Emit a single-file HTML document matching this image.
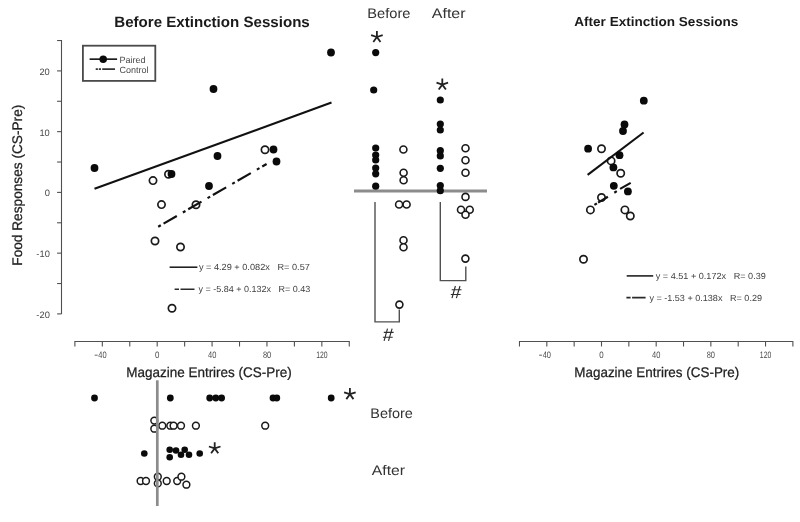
<!DOCTYPE html>
<html><head><meta charset="utf-8"><title>Extinction Sessions</title>
<style>
html,body{margin:0;padding:0;background:#fff;}
body{width:800px;height:522px;overflow:hidden;font-family:"Liberation Sans",sans-serif;}
svg{display:block;will-change:transform;opacity:0.999;}
text{text-rendering:geometricPrecision;white-space:pre;}
</style></head><body>
<svg width="800" height="522" viewBox="0 0 800 522">
<path d="M61.5 40 V314" stroke="#505050" stroke-width="1.1" fill="none"/>
<path d="M57.1 313.90 H61.5" stroke="#505050" stroke-width="1.1"/>
<path d="M57.1 283.52 H61.5" stroke="#505050" stroke-width="1.1"/>
<path d="M57.1 253.15 H61.5" stroke="#505050" stroke-width="1.1"/>
<path d="M57.1 222.78 H61.5" stroke="#505050" stroke-width="1.1"/>
<path d="M57.1 192.40 H61.5" stroke="#505050" stroke-width="1.1"/>
<path d="M57.1 162.03 H61.5" stroke="#505050" stroke-width="1.1"/>
<path d="M57.1 131.65 H61.5" stroke="#505050" stroke-width="1.1"/>
<path d="M57.1 101.28 H61.5" stroke="#505050" stroke-width="1.1"/>
<path d="M57.1 70.90 H61.5" stroke="#505050" stroke-width="1.1"/>
<path d="M57.1 40.53 H61.5" stroke="#505050" stroke-width="1.1"/>
<text x="49.8" y="317.9" font-family="Liberation Sans, sans-serif" font-size="9.3" font-weight="normal" text-anchor="end" fill="#4a4a4a" >-20</text>
<text x="49.8" y="257.15" font-family="Liberation Sans, sans-serif" font-size="9.3" font-weight="normal" text-anchor="end" fill="#4a4a4a" >-10</text>
<text x="49.8" y="196.4" font-family="Liberation Sans, sans-serif" font-size="9.3" font-weight="normal" text-anchor="end" fill="#4a4a4a" >0</text>
<text x="49.8" y="135.65" font-family="Liberation Sans, sans-serif" font-size="9.3" font-weight="normal" text-anchor="end" fill="#4a4a4a" >10</text>
<text x="49.8" y="74.9" font-family="Liberation Sans, sans-serif" font-size="9.3" font-weight="normal" text-anchor="end" fill="#4a4a4a" >20</text>
<text transform="translate(21.6,185.2) rotate(-90)" font-family="Liberation Sans, sans-serif" font-size="13.9" text-anchor="middle" fill="#222" stroke="#222" stroke-width="0.25" textLength="161" lengthAdjust="spacingAndGlyphs">Food Responses (CS-Pre)</text>
<path d="M74.87999999999998 341.5 H349.28" stroke="#505050" stroke-width="1.1" fill="none"/>
<path d="M74.88 341 V346.5" stroke="#505050" stroke-width="1.1"/>
<path d="M102.32 341 V346.5" stroke="#505050" stroke-width="1.1"/>
<path d="M129.76 341 V346.5" stroke="#505050" stroke-width="1.1"/>
<path d="M157.20 341 V346.5" stroke="#505050" stroke-width="1.1"/>
<path d="M184.64 341 V346.5" stroke="#505050" stroke-width="1.1"/>
<path d="M212.08 341 V346.5" stroke="#505050" stroke-width="1.1"/>
<path d="M239.52 341 V346.5" stroke="#505050" stroke-width="1.1"/>
<path d="M266.96 341 V346.5" stroke="#505050" stroke-width="1.1"/>
<path d="M294.40 341 V346.5" stroke="#505050" stroke-width="1.1"/>
<path d="M321.84 341 V346.5" stroke="#505050" stroke-width="1.1"/>
<path d="M349.28 341 V346.5" stroke="#505050" stroke-width="1.1"/>
<text x="102.41999999999999" y="357.8" font-family="Liberation Sans, sans-serif" font-size="9.3" font-weight="normal" text-anchor="middle" fill="#4a4a4a" textLength="8.3" lengthAdjust="spacingAndGlyphs" >40</text>
<path d="M94.67 355.2 H97.67" stroke="#555" stroke-width="0.9"/>
<text x="157.29999999999998" y="357.8" font-family="Liberation Sans, sans-serif" font-size="9.3" font-weight="normal" text-anchor="middle" fill="#4a4a4a" textLength="4.4" lengthAdjust="spacingAndGlyphs" >0</text>
<text x="212.17999999999998" y="357.8" font-family="Liberation Sans, sans-serif" font-size="9.3" font-weight="normal" text-anchor="middle" fill="#4a4a4a" textLength="8.3" lengthAdjust="spacingAndGlyphs" >40</text>
<text x="267.06" y="357.8" font-family="Liberation Sans, sans-serif" font-size="9.3" font-weight="normal" text-anchor="middle" fill="#4a4a4a" textLength="8.3" lengthAdjust="spacingAndGlyphs" >80</text>
<text x="321.94000000000005" y="357.8" font-family="Liberation Sans, sans-serif" font-size="9.3" font-weight="normal" text-anchor="middle" fill="#4a4a4a" textLength="11.4" lengthAdjust="spacingAndGlyphs" >120</text>
<text x="209" y="376.7" font-family="Liberation Sans, sans-serif" font-size="13.9" font-weight="normal" text-anchor="middle" fill="#222" textLength="165.6" lengthAdjust="spacingAndGlyphs" stroke="#222" stroke-width="0.25">Magazine Entrires (CS-Pre)</text>
<text x="212" y="27" font-family="Liberation Sans, sans-serif" font-size="15" font-weight="bold" text-anchor="middle" fill="#1a1a1a" textLength="195.5" lengthAdjust="spacingAndGlyphs" >Before Extinction Sessions</text>
<text x="656.3" y="26.2" font-family="Liberation Sans, sans-serif" font-size="13" font-weight="bold" text-anchor="middle" fill="#1a1a1a" textLength="164" lengthAdjust="spacingAndGlyphs" >After Extinction Sessions</text>
<rect x="82.9" y="45.7" width="72.4" height="35.2" fill="none" stroke="#4a4a4a" stroke-width="1.8"/>
<path d="M89.6 59.15 H117.1" stroke="#111" stroke-width="1.6"/>
<circle cx="103.2" cy="59.15" r="3.75" fill="#0a0a0a"/>
<path d="M95.7 69.1 H115" stroke="#333" stroke-width="1.7" stroke-dasharray="2.2 0.9 2.2 1.2 12.8"/>
<text x="119.5" y="63" font-family="Liberation Sans, sans-serif" font-size="9" font-weight="normal" text-anchor="start" fill="#4a4a4a" >Paired</text>
<text x="119.5" y="72.8" font-family="Liberation Sans, sans-serif" font-size="9" font-weight="normal" text-anchor="start" fill="#4a4a4a" >Control</text>
<circle cx="153" cy="180.6" r="3.65" fill="#fff" stroke="#1a1a1a" stroke-width="1.7"/>
<circle cx="168.5" cy="174.3" r="3.65" fill="#fff" stroke="#1a1a1a" stroke-width="1.7"/>
<circle cx="161.5" cy="204.6" r="3.65" fill="#fff" stroke="#1a1a1a" stroke-width="1.7"/>
<circle cx="196" cy="204.8" r="3.65" fill="#fff" stroke="#1a1a1a" stroke-width="1.7"/>
<circle cx="265" cy="149.8" r="3.65" fill="#fff" stroke="#1a1a1a" stroke-width="1.7"/>
<circle cx="155" cy="241" r="3.65" fill="#fff" stroke="#1a1a1a" stroke-width="1.7"/>
<circle cx="180.5" cy="247" r="3.65" fill="#fff" stroke="#1a1a1a" stroke-width="1.7"/>
<circle cx="172" cy="308.3" r="3.65" fill="#fff" stroke="#1a1a1a" stroke-width="1.7"/>
<path d="M94.5 188.8 L331.5 102.6" stroke="#111" stroke-width="2.1"/>
<path d="M158.2 226.7 L266.6 164" stroke="#111" stroke-width="2.2" stroke-dasharray="3 3.2 15.3 7"/>
<circle cx="94.5" cy="168" r="3.9" fill="#0a0a0a"/>
<circle cx="331" cy="52.5" r="3.9" fill="#0a0a0a"/>
<circle cx="213.5" cy="89" r="3.9" fill="#0a0a0a"/>
<circle cx="217.5" cy="156" r="3.9" fill="#0a0a0a"/>
<circle cx="273.5" cy="149.5" r="3.9" fill="#0a0a0a"/>
<circle cx="276.5" cy="161.5" r="3.9" fill="#0a0a0a"/>
<circle cx="209" cy="186" r="3.9" fill="#0a0a0a"/>
<circle cx="171.5" cy="174" r="3.9" fill="#0a0a0a"/>
<path d="M169.6 267.2 H197.4" stroke="#222" stroke-width="1.6"/>
<text x="198.9" y="270.1" font-family="Liberation Sans, sans-serif" font-size="8.8" font-weight="normal" text-anchor="start" fill="#404040" textLength="111" lengthAdjust="spacingAndGlyphs" >y = 4.29 + 0.082x   R= 0.57</text>
<path d="M174.6 289.3 H194.5" stroke="#2a2a2a" stroke-width="1.6" stroke-dasharray="4.4 1.5 14"/>
<text x="198.4" y="292" font-family="Liberation Sans, sans-serif" font-size="8.8" font-weight="normal" text-anchor="start" fill="#404040" textLength="112" lengthAdjust="spacingAndGlyphs" >y = -5.84 + 0.132x   R= 0.43</text>
<text x="388.9" y="18" font-family="Liberation Sans, sans-serif" font-size="14" font-weight="normal" text-anchor="middle" fill="#333" textLength="43.2" lengthAdjust="spacingAndGlyphs" >Before</text>
<text x="448.7" y="18" font-family="Liberation Sans, sans-serif" font-size="14" font-weight="normal" text-anchor="middle" fill="#333" textLength="33.7" lengthAdjust="spacingAndGlyphs" >After</text>
<path d="M354 191 H487" stroke="#8c8c8c" stroke-width="3"/>
<circle cx="375.7" cy="52.6" r="3.6" fill="#0a0a0a"/>
<circle cx="373.7" cy="90" r="3.6" fill="#0a0a0a"/>
<circle cx="375.7" cy="148" r="3.6" fill="#0a0a0a"/>
<circle cx="375.7" cy="155" r="3.6" fill="#0a0a0a"/>
<circle cx="375.7" cy="160" r="3.6" fill="#0a0a0a"/>
<circle cx="375.7" cy="168" r="3.6" fill="#0a0a0a"/>
<circle cx="375.7" cy="173.8" r="3.6" fill="#0a0a0a"/>
<circle cx="375.7" cy="186.2" r="3.6" fill="#0a0a0a"/>
<circle cx="403.4" cy="149.5" r="3.5" fill="#fff" stroke="#1a1a1a" stroke-width="1.6"/>
<circle cx="403.6" cy="172.8" r="3.5" fill="#fff" stroke="#1a1a1a" stroke-width="1.6"/>
<circle cx="403.6" cy="180.3" r="3.5" fill="#fff" stroke="#1a1a1a" stroke-width="1.6"/>
<circle cx="399.1" cy="204.5" r="3.5" fill="#fff" stroke="#1a1a1a" stroke-width="1.6"/>
<circle cx="406.6" cy="204.5" r="3.5" fill="#fff" stroke="#1a1a1a" stroke-width="1.6"/>
<circle cx="403.5" cy="240.3" r="3.5" fill="#fff" stroke="#1a1a1a" stroke-width="1.6"/>
<circle cx="403.5" cy="247.3" r="3.5" fill="#fff" stroke="#1a1a1a" stroke-width="1.6"/>
<circle cx="399.4" cy="304.6" r="3.5" fill="#fff" stroke="#1a1a1a" stroke-width="1.6"/>
<circle cx="440.3" cy="100" r="3.6" fill="#0a0a0a"/>
<circle cx="440.3" cy="124" r="3.6" fill="#0a0a0a"/>
<circle cx="440.3" cy="130" r="3.6" fill="#0a0a0a"/>
<circle cx="440.3" cy="150.7" r="3.6" fill="#0a0a0a"/>
<circle cx="440.3" cy="155.9" r="3.6" fill="#0a0a0a"/>
<circle cx="440.3" cy="168.3" r="3.6" fill="#0a0a0a"/>
<circle cx="440.3" cy="185.5" r="3.6" fill="#0a0a0a"/>
<circle cx="440.3" cy="190.7" r="3.6" fill="#0a0a0a"/>
<circle cx="465.5" cy="148.3" r="3.5" fill="#fff" stroke="#1a1a1a" stroke-width="1.6"/>
<circle cx="465.5" cy="160.3" r="3.5" fill="#fff" stroke="#1a1a1a" stroke-width="1.6"/>
<circle cx="465.5" cy="172.8" r="3.5" fill="#fff" stroke="#1a1a1a" stroke-width="1.6"/>
<circle cx="465.5" cy="196.9" r="3.5" fill="#fff" stroke="#1a1a1a" stroke-width="1.6"/>
<circle cx="461" cy="209.7" r="3.5" fill="#fff" stroke="#1a1a1a" stroke-width="1.6"/>
<circle cx="469.7" cy="209.7" r="3.5" fill="#fff" stroke="#1a1a1a" stroke-width="1.6"/>
<circle cx="465.5" cy="214.8" r="3.5" fill="#fff" stroke="#1a1a1a" stroke-width="1.6"/>
<circle cx="465.4" cy="258.6" r="3.5" fill="#fff" stroke="#1a1a1a" stroke-width="1.6"/>
<path d="M375 202 V321.9 H399.3 V309.5" stroke="#505050" stroke-width="1.4" fill="none"/>
<path d="M440.3 202 V280.6 H465.8 V266.5" stroke="#505050" stroke-width="1.4" fill="none"/>
<path d="M387.50 328.70 L384.10 340.80 M392.10 328.70 L388.50 340.80 M383.80 332.40 H393.60 M382.90 337.20 H392.70" stroke="#2e2e2e" stroke-width="1.15" fill="none"/>
<path d="M455.40 286.00 L452.00 298.10 M460.00 286.00 L456.40 298.10 M451.70 289.70 H461.50 M450.80 294.50 H460.60" stroke="#2e2e2e" stroke-width="1.15" fill="none"/>
<path d="M376.9 37 L376.90 30.90M376.9 37 L382.70 35.11M376.9 37 L380.49 41.94M376.9 37 L373.31 41.94M376.9 37 L371.10 35.11" stroke="#222" stroke-width="1.8" fill="none"/>
<path d="M442.3 84.6 L442.30 78.50M442.3 84.6 L448.10 82.71M442.3 84.6 L445.89 89.54M442.3 84.6 L438.71 89.54M442.3 84.6 L436.50 82.71" stroke="#222" stroke-width="1.8" fill="none"/>
<path d="M349.9 394.2 L349.90 388.10M349.9 394.2 L355.70 392.31M349.9 394.2 L353.49 399.14M349.9 394.2 L346.31 399.14M349.9 394.2 L344.10 392.31" stroke="#222" stroke-width="1.8" fill="none"/>
<path d="M214.7 448.4 L214.70 442.30M214.7 448.4 L220.50 446.51M214.7 448.4 L218.29 453.34M214.7 448.4 L211.11 453.34M214.7 448.4 L208.90 446.51" stroke="#222" stroke-width="1.8" fill="none"/>
<path d="M519.48 341.5 H792.88" stroke="#505050" stroke-width="1.1" fill="none"/>
<path d="M519.48 341 V346.5" stroke="#505050" stroke-width="1.1"/>
<path d="M546.82 341 V346.5" stroke="#505050" stroke-width="1.1"/>
<path d="M574.16 341 V346.5" stroke="#505050" stroke-width="1.1"/>
<path d="M601.50 341 V346.5" stroke="#505050" stroke-width="1.1"/>
<path d="M628.84 341 V346.5" stroke="#505050" stroke-width="1.1"/>
<path d="M656.18 341 V346.5" stroke="#505050" stroke-width="1.1"/>
<path d="M683.52 341 V346.5" stroke="#505050" stroke-width="1.1"/>
<path d="M710.86 341 V346.5" stroke="#505050" stroke-width="1.1"/>
<path d="M738.20 341 V346.5" stroke="#505050" stroke-width="1.1"/>
<path d="M765.54 341 V346.5" stroke="#505050" stroke-width="1.1"/>
<path d="M792.88 341 V346.5" stroke="#505050" stroke-width="1.1"/>
<text x="546.82" y="357.8" font-family="Liberation Sans, sans-serif" font-size="9.3" font-weight="normal" text-anchor="middle" fill="#4a4a4a" textLength="8.3" lengthAdjust="spacingAndGlyphs" >40</text>
<path d="M539.07 355.2 H542.07" stroke="#555" stroke-width="0.9"/>
<text x="601.5" y="357.8" font-family="Liberation Sans, sans-serif" font-size="9.3" font-weight="normal" text-anchor="middle" fill="#4a4a4a" textLength="4.4" lengthAdjust="spacingAndGlyphs" >0</text>
<text x="656.18" y="357.8" font-family="Liberation Sans, sans-serif" font-size="9.3" font-weight="normal" text-anchor="middle" fill="#4a4a4a" textLength="8.3" lengthAdjust="spacingAndGlyphs" >40</text>
<text x="710.86" y="357.8" font-family="Liberation Sans, sans-serif" font-size="9.3" font-weight="normal" text-anchor="middle" fill="#4a4a4a" textLength="8.3" lengthAdjust="spacingAndGlyphs" >80</text>
<text x="765.54" y="357.8" font-family="Liberation Sans, sans-serif" font-size="9.3" font-weight="normal" text-anchor="middle" fill="#4a4a4a" textLength="11.4" lengthAdjust="spacingAndGlyphs" >120</text>
<text x="656.8" y="376.7" font-family="Liberation Sans, sans-serif" font-size="13.9" font-weight="normal" text-anchor="middle" fill="#222" textLength="165" lengthAdjust="spacingAndGlyphs" stroke="#222" stroke-width="0.25">Magazine Entrires (CS-Pre)</text>
<circle cx="601.5" cy="148.7" r="3.65" fill="#fff" stroke="#1a1a1a" stroke-width="1.7"/>
<circle cx="611.1" cy="160.9" r="3.65" fill="#fff" stroke="#1a1a1a" stroke-width="1.7"/>
<circle cx="620.7" cy="173.2" r="3.65" fill="#fff" stroke="#1a1a1a" stroke-width="1.7"/>
<circle cx="601.5" cy="197.5" r="3.65" fill="#fff" stroke="#1a1a1a" stroke-width="1.7"/>
<circle cx="590.4" cy="209.9" r="3.65" fill="#fff" stroke="#1a1a1a" stroke-width="1.7"/>
<circle cx="624.9" cy="209.9" r="3.65" fill="#fff" stroke="#1a1a1a" stroke-width="1.7"/>
<circle cx="630.3" cy="216" r="3.65" fill="#fff" stroke="#1a1a1a" stroke-width="1.7"/>
<circle cx="583.5" cy="259.2" r="3.65" fill="#fff" stroke="#1a1a1a" stroke-width="1.7"/>
<path d="M587.6 174.8 L643.6 132.5" stroke="#111" stroke-width="2.1"/>
<path d="M594.4 204.9 L596.9 203.35 M598.1 202.6 L607.9 196.8 M614.3 192.7 L616.8 191.15 M620.1 188.9 L630.7 182.9" stroke="#111" stroke-width="2.2" fill="none"/>
<circle cx="643.8" cy="100.7" r="3.9" fill="#0a0a0a"/>
<circle cx="624.5" cy="124.5" r="3.9" fill="#0a0a0a"/>
<circle cx="623" cy="131" r="3.9" fill="#0a0a0a"/>
<circle cx="588.1" cy="148.7" r="3.9" fill="#0a0a0a"/>
<circle cx="619.5" cy="155.2" r="3.9" fill="#0a0a0a"/>
<circle cx="613.4" cy="167.4" r="3.9" fill="#0a0a0a"/>
<circle cx="613.8" cy="185.8" r="3.9" fill="#0a0a0a"/>
<circle cx="627.9" cy="191.4" r="3.9" fill="#0a0a0a"/>
<path d="M626.7 275.9 H653.2" stroke="#222" stroke-width="1.6"/>
<text x="655.8" y="279" font-family="Liberation Sans, sans-serif" font-size="8.8" font-weight="normal" text-anchor="start" fill="#404040" textLength="110" lengthAdjust="spacingAndGlyphs" >y = 4.51 + 0.172x   R= 0.39</text>
<path d="M626.4 297.6 H645.6" stroke="#2a2a2a" stroke-width="1.6" stroke-dasharray="4.2 1.5 14"/>
<text x="649.4" y="300.8" font-family="Liberation Sans, sans-serif" font-size="8.8" font-weight="normal" text-anchor="start" fill="#404040" textLength="112.6" lengthAdjust="spacingAndGlyphs" >y = -1.53 + 0.138x   R= 0.29</text>
<circle cx="94.5" cy="398" r="3.4" fill="#0a0a0a"/>
<circle cx="170.3" cy="398" r="3.4" fill="#0a0a0a"/>
<circle cx="209.7" cy="398" r="3.4" fill="#0a0a0a"/>
<circle cx="215.8" cy="398" r="3.4" fill="#0a0a0a"/>
<circle cx="221.6" cy="398" r="3.4" fill="#0a0a0a"/>
<circle cx="273" cy="398" r="3.4" fill="#0a0a0a"/>
<circle cx="276.8" cy="398" r="3.4" fill="#0a0a0a"/>
<circle cx="331.2" cy="398" r="3.4" fill="#0a0a0a"/>
<circle cx="154.3" cy="420.6" r="3.4" fill="#fff" stroke="#1a1a1a" stroke-width="1.5"/>
<circle cx="154.3" cy="428.7" r="3.4" fill="#fff" stroke="#1a1a1a" stroke-width="1.5"/>
<circle cx="162.3" cy="425.7" r="3.4" fill="#fff" stroke="#1a1a1a" stroke-width="1.5"/>
<circle cx="170.3" cy="425.7" r="3.4" fill="#fff" stroke="#1a1a1a" stroke-width="1.5"/>
<circle cx="173.6" cy="425.7" r="3.4" fill="#fff" stroke="#1a1a1a" stroke-width="1.5"/>
<circle cx="181" cy="425.7" r="3.4" fill="#fff" stroke="#1a1a1a" stroke-width="1.5"/>
<circle cx="195.9" cy="425.7" r="3.4" fill="#fff" stroke="#1a1a1a" stroke-width="1.5"/>
<circle cx="265.2" cy="425.7" r="3.4" fill="#fff" stroke="#1a1a1a" stroke-width="1.5"/>
<circle cx="144.3" cy="453.5" r="3.3" fill="#0a0a0a"/>
<circle cx="169.7" cy="449.8" r="3.3" fill="#0a0a0a"/>
<circle cx="169.7" cy="457.3" r="3.3" fill="#0a0a0a"/>
<circle cx="176" cy="450.5" r="3.3" fill="#0a0a0a"/>
<circle cx="181" cy="454.8" r="3.3" fill="#0a0a0a"/>
<circle cx="184.7" cy="449.8" r="3.3" fill="#0a0a0a"/>
<circle cx="189" cy="454.8" r="3.3" fill="#0a0a0a"/>
<circle cx="199.7" cy="453.5" r="3.3" fill="#0a0a0a"/>
<circle cx="140.6" cy="481" r="3.4" fill="#fff" stroke="#1a1a1a" stroke-width="1.5"/>
<circle cx="146" cy="481" r="3.4" fill="#fff" stroke="#1a1a1a" stroke-width="1.5"/>
<circle cx="157.8" cy="476.7" r="3.4" fill="#fff" stroke="#1a1a1a" stroke-width="1.5"/>
<circle cx="157.8" cy="483.4" r="3.4" fill="#fff" stroke="#1a1a1a" stroke-width="1.5"/>
<circle cx="166.7" cy="481" r="3.4" fill="#fff" stroke="#1a1a1a" stroke-width="1.5"/>
<circle cx="177.2" cy="481" r="3.4" fill="#fff" stroke="#1a1a1a" stroke-width="1.5"/>
<circle cx="181.4" cy="476.7" r="3.4" fill="#fff" stroke="#1a1a1a" stroke-width="1.5"/>
<circle cx="186.4" cy="484.7" r="3.4" fill="#fff" stroke="#1a1a1a" stroke-width="1.5"/>
<path d="M157.3 380.3 V506" stroke="#8c8c8c" stroke-width="2.7"/>
<text x="391.6" y="417.5" font-family="Liberation Sans, sans-serif" font-size="14" font-weight="normal" text-anchor="middle" fill="#333" textLength="42.6" lengthAdjust="spacingAndGlyphs" >Before</text>
<text x="388.4" y="474.6" font-family="Liberation Sans, sans-serif" font-size="14" font-weight="normal" text-anchor="middle" fill="#333" textLength="33.3" lengthAdjust="spacingAndGlyphs" >After</text>
</svg>
</body></html>
